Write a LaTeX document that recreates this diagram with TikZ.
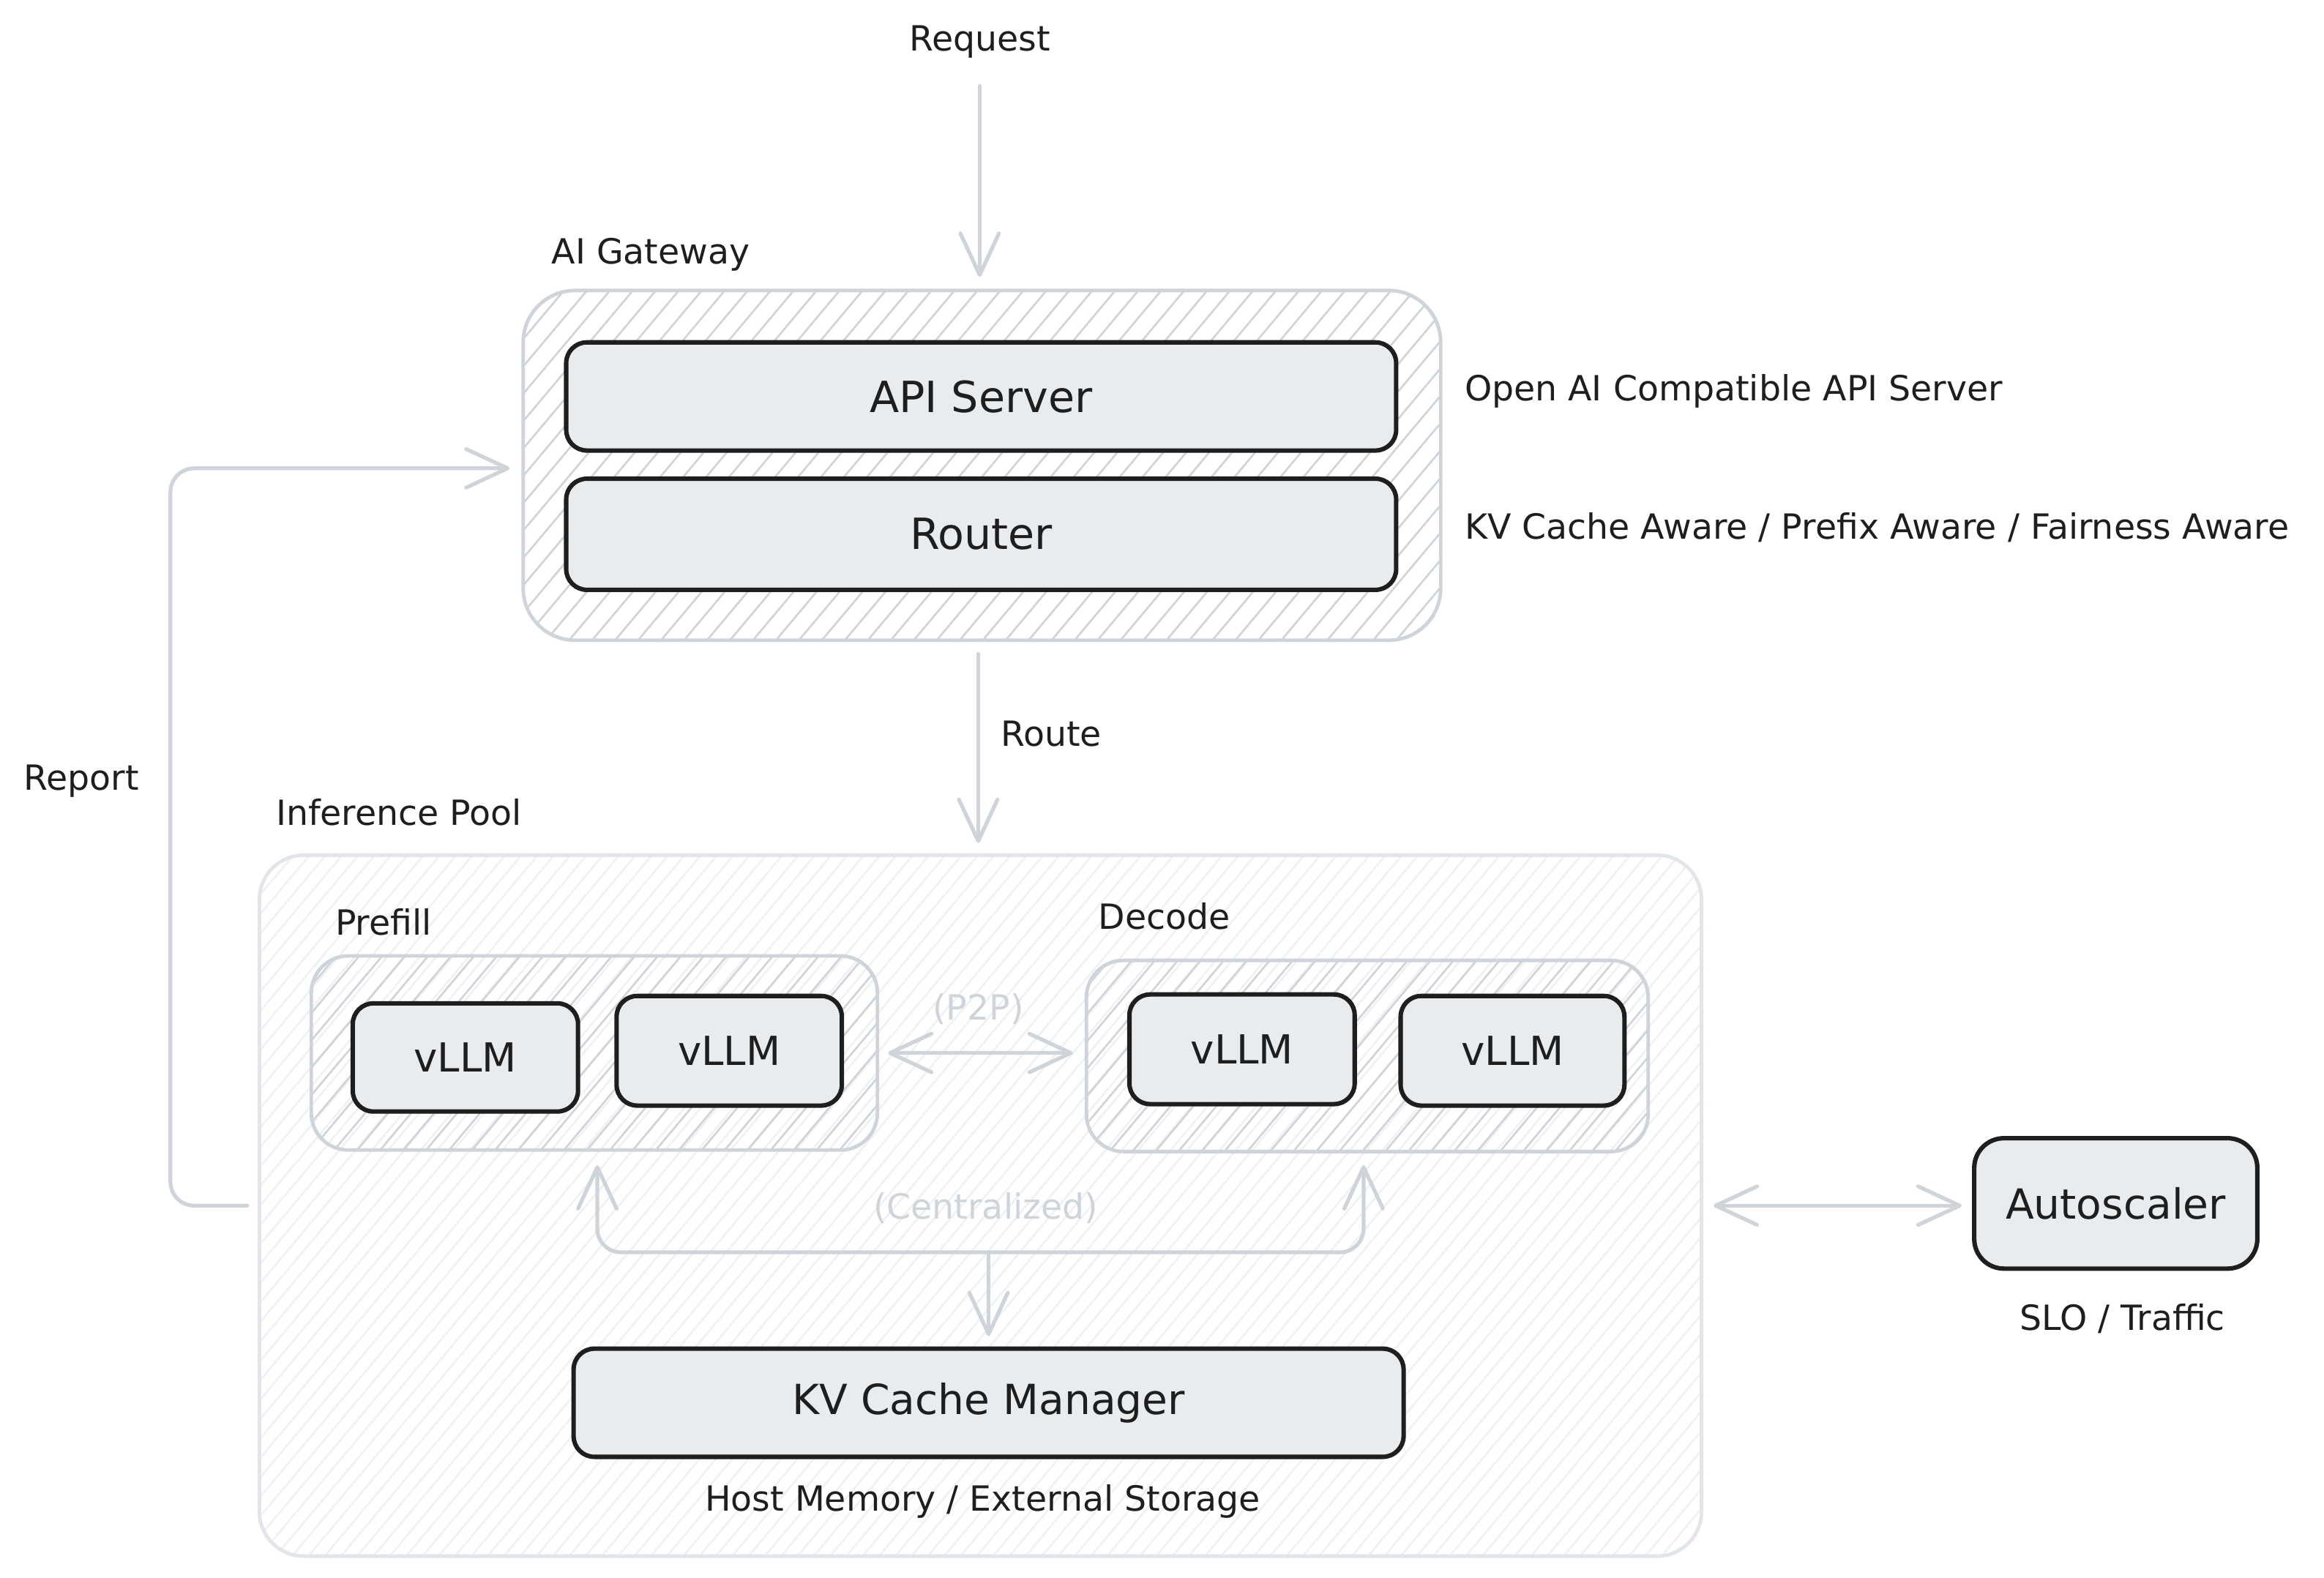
\documentclass[tikz,border=0pt]{standalone}
\usepackage{fontspec}
\setmainfont{DejaVu Sans}
\usetikzlibrary{arrows.meta,calc}
\definecolor{ink}{HTML}{1E1E1E}
\definecolor{lineg}{HTML}{CED4DA}
\definecolor{boxfill}{HTML}{E9ECEF}
\definecolor{poolline}{HTML}{E2E5E9}
\definecolor{poolhatch}{HTML}{EFF1F3}
\newcommand{\smallfnt}{\fontsize{23.4}{28}\selectfont}
\newcommand{\bigfnt}{\fontsize{28}{34}\selectfont}
\begin{document}
\begin{tikzpicture}[x=1pt,y=-1pt,
  hatched/.style 2 args={path picture={\foreach \k in {-60,...,100}{\draw[#1,line width=1.3pt] ([xshift=\k*#2]path picture bounding box.south west) -- ++(50:800pt);}}},
  groupbox/.style={draw=lineg, line width=2.4pt, rounded corners=30pt, inner sep=0pt, hatched={lineg}{15.5pt}},
  poolbox/.style={draw=poolline, line width=2.4pt, rounded corners=30pt, inner sep=0pt, hatched={poolhatch}{11pt}},
  darkbox/.style={draw=ink, line width=3pt, fill=boxfill, rounded corners=14pt, inner sep=0pt, text=ink, font=\bigfnt},
  lbl/.style={inner sep=0pt, text=ink, font=\smallfnt},
  glbl/.style={inner sep=0pt, text=lineg, font=\smallfnt},
  arr/.style={draw=lineg, line width=2.6pt, line cap=round, line join=round, -{Straight Barb[length=28pt,width=26pt,round]}},
  arrboth/.style={draw=lineg, line width=2.6pt, line cap=round, line join=round, {Straight Barb[length=28pt,width=26pt,round]}-{Straight Barb[length=28pt,width=26pt,round]}}
]
\useasboundingbox (0,0) rectangle (1568,1064.3);

% containers
\node[poolbox, minimum width=973pt, minimum height=473pt] (pool) at (661.5,813.5) {};
\node[groupbox, rounded corners=35pt, minimum width=619pt, minimum height=236pt] (gw) at (662.5,314) {};
\node[groupbox, rounded corners=25pt, minimum width=382pt, minimum height=131pt] (prefill) at (401,710.5) {};
\node[groupbox, rounded corners=25pt, minimum width=379pt, minimum height=129pt] (decode) at (922.5,712.5) {};

% boxes
\node[darkbox, minimum width=560pt, minimum height=73pt, font=\fontsize{29}{34}\selectfont] (api) at (662,267.5) {API Server};
\node[darkbox, minimum width=560pt, minimum height=75pt, font=\fontsize{29}{34}\selectfont] (router) at (662,360.5) {Router};
\node[darkbox, minimum width=152pt, minimum height=73pt, font=\fontsize{27}{32}\selectfont] (v1) at (314,713.5) {vLLM};
\node[darkbox, minimum width=152pt, minimum height=74pt, font=\fontsize{27}{32}\selectfont] (v2) at (492,709) {vLLM};
\node[darkbox, minimum width=152pt, minimum height=74pt, font=\fontsize{27}{32}\selectfont] (v3) at (838,708) {vLLM};
\node[darkbox, minimum width=151pt, minimum height=74pt, font=\fontsize{27}{32}\selectfont] (v4) at (1020.5,709) {vLLM};
\node[darkbox, minimum width=560pt, minimum height=73pt] (kv) at (667,946.5) {KV Cache Manager};
\node[darkbox, rounded corners=20pt, minimum width=191pt, minimum height=88pt] (auto) at (1427.5,812) {Autoscaler};

% labels
\node[lbl] (req) at (661,28) {Request};
\node[lbl, anchor=west] (gwl) at (372,172) {AI Gateway};
\node[lbl, anchor=west] (apil) at (988,264) {Open AI Compatible API Server};
\node[lbl, anchor=west] (routl) at (988,356) {KV Cache Aware / Prefix Aware / Fairness Aware};
\node[lbl, anchor=west] (routel) at (675,495) {Route};
\node[lbl, anchor=west] (pooll) at (186,548) {Inference Pool};
\node[lbl, anchor=west] (prel) at (226,622) {Prefill};
\node[lbl, anchor=west] (decl) at (741,618) {Decode};
\node[glbl] (p2pl) at (660,681) {(P2P)};
\node[glbl] (centl) at (665,815) {(Centralized)};
\node[lbl] (kvl) at (663,1013) {Host Memory / External Storage};
\node[lbl] (autol) at (1432,890) {SLO / Traffic};
\node[lbl] (repl) at (55,527) {Report};

% connectors
\coordinate (reqs) at (661,58);
\draw[arr] (reqs) -- ([yshift=8pt]gw.north -| reqs);
\draw[arr] ([yshift=-8pt]gw.south -| 660,0) -- ([yshift=7pt]pool.north -| 660,0);
\draw[arrboth] ([xshift=6pt]prefill.east) -- ([xshift=-8pt]decode.west |- prefill.east);
\draw[arrboth] ([xshift=7pt]pool.east) -- ([xshift=-7pt]auto.west |- pool.east);
\draw[arr, rounded corners=16pt] ([xshift=-7pt]pool.west) -- (115,813.5) |- ([xshift=-8pt]gw.west |- 0,316);
\coordinate (junc) at (667,845);
\draw[arrboth, rounded corners=16pt] ([yshift=-9pt]prefill.south -| 403,0) |- (junc) -| ([yshift=-8pt]decode.south -| 920,0);
\draw[arr, rounded corners=14pt] (junc) -- ([yshift=7pt]kv.north);
\end{tikzpicture}
\end{document}
